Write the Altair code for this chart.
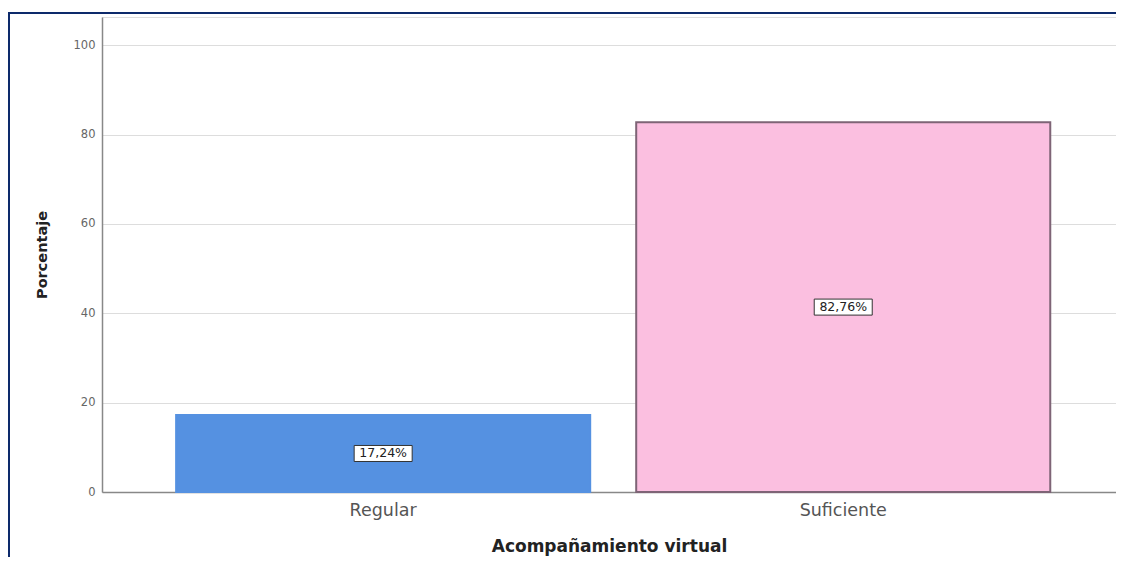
import altair as alt
import pandas as pd

categories = ["Regular", "Suficiente"]
percentages = [17.24, 82.76]
label_texts = ["17,24%", "82,76%"]
bar_colors = ["#5591e1", "#fbbfe0"]
bar_strokes = ["#5591e1", "#7e6476"]
y_ticks = [0, 20, 40, 60, 80, 100]

df = pd.DataFrame({
    "cat": categories,
    "pct": percentages,
    "mid": [p / 2 for p in percentages],
    "label": label_texts,
})

x_enc = alt.X(
    "cat:N",
    sort=categories,
    scale=alt.Scale(paddingInner=0.1, paddingOuter=0.152, align=0.53),
    axis=alt.Axis(
        title="Acompañamiento virtual",
        labelAngle=0,
        labelFontSize=17.5,
        labelColor="#555555",
        labelFont="DejaVu Sans",
        labelPadding=9,
        ticks=False,
        domainColor="#888888",
        domainWidth=1.5,
        titleFont="DejaVu Sans",
        titleFontSize=17,
        titleFontWeight="bold",
        titleColor="#222222",
        titlePadding=20,
        grid=False,
    ),
)

y_scale = alt.Scale(domain=[0, 106.3], nice=False)

bars = alt.Chart(df).mark_bar(strokeWidth=2).encode(
    x=x_enc,
    y=alt.Y(
        "pct:Q",
        scale=y_scale,
        axis=alt.Axis(
            title="Porcentaje",
            values=y_ticks,
            labelFontSize=11.5,
            labelColor="#666666",
            labelFont="DejaVu Sans",
            labelPadding=7,
            ticks=False,
            domainColor="#888888",
            domainWidth=1.5,
            gridColor="#dddddd",
            gridWidth=1,
            titleFont="DejaVu Sans",
            titleFontSize=14.5,
            titleFontWeight="bold",
            titleColor="#222222",
            titlePadding=24,
        ),
    ),
    color=alt.Color("cat:N", scale=alt.Scale(domain=categories, range=bar_colors), legend=None),
    stroke=alt.Stroke("cat:N", scale=alt.Scale(domain=categories, range=bar_strokes), legend=None),
)

box_shape = "M-1,-0.276L1,-0.276L1,0.276L-1,0.276Z"
boxes = alt.Chart(df).mark_point(
    shape=box_shape, size=3364, filled=True, fill="white", stroke="#333333", strokeWidth=1, opacity=1
).encode(
    x=alt.X("cat:N", sort=categories),
    y=alt.Y("mid:Q", scale=y_scale),
)

texts = alt.Chart(df).mark_text(
    fontSize=12.5, font="DejaVu Sans", color="#222222", align="center", baseline="middle"
).encode(
    x=alt.X("cat:N", sort=categories),
    y=alt.Y("mid:Q", scale=y_scale),
    text="label:N",
)

frame_data = alt.Data(values=[{"a": 1}])
frame_left = alt.Chart(frame_data).mark_rule(color="#0d2a6b", strokeWidth=2).encode(
    x=alt.value(-93), y=alt.value(-4), y2=alt.value(560)
)
frame_top = alt.Chart(frame_data).mark_rule(color="#0d2a6b", strokeWidth=2).encode(
    x=alt.value(-94), x2=alt.value(1030), y=alt.value(-4)
)

chart = alt.layer(bars, boxes, texts, frame_left, frame_top).properties(
    width=1014,
    height=475,
    autosize=alt.AutoSizeParams(type="none"),
    padding={"left": 94, "top": 9, "right": 0, "bottom": 65},
).configure_view(stroke=None).configure(background="white")

chart.save("out.html", embed_options={"renderer": "svg", "actions": False})
